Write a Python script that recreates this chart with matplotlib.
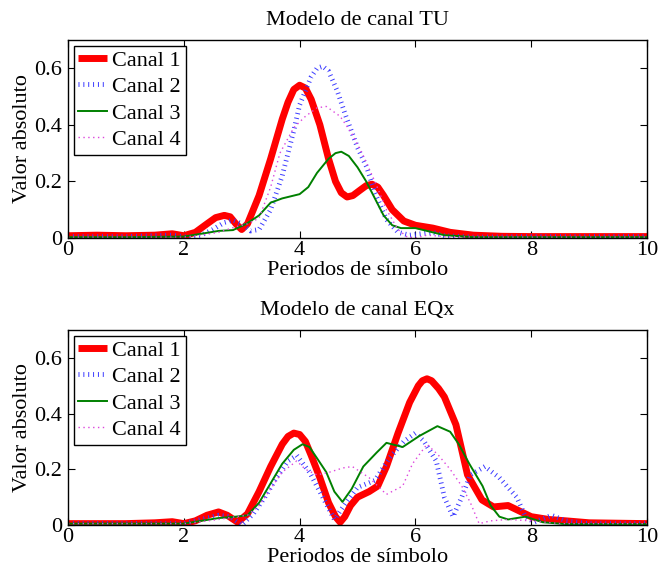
import numpy as np
import matplotlib
matplotlib.use('Agg')
import matplotlib.pyplot as plt

plt.rcParams['font.family'] = ['Liberation Serif', 'DejaVu Serif']
plt.rcParams['font.size'] = 16

# Magnitude of the impulse response per channel, TU channel model
tu_x1 = [0, 0.5, 1.0, 1.5, 1.8, 2.0, 2.2, 2.4, 2.55, 2.7, 2.8, 2.9, 3.0, 3.1, 3.3, 3.5, 3.7, 3.8,
         3.9, 4.0, 4.1, 4.2, 4.35, 4.5, 4.62, 4.72, 4.82, 4.92, 5.05, 5.15, 5.25, 5.35, 5.45, 5.6,
         5.8, 6.0, 6.3, 6.6, 7.0, 7.5, 8.0, 9.0, 10.0]
tu_c1 = [0.008, 0.01, 0.008, 0.01, 0.015, 0.008, 0.02, 0.05, 0.072, 0.08, 0.075, 0.05, 0.03, 0.05,
         0.15, 0.28, 0.42, 0.48, 0.525, 0.54, 0.53, 0.49, 0.40, 0.28, 0.2, 0.16, 0.145, 0.15, 0.17,
         0.185, 0.19, 0.18, 0.15, 0.10, 0.06, 0.045, 0.035, 0.02, 0.01, 0.006, 0.005, 0.005, 0.005]

tu_x2 = [0, 1.0, 1.8, 2.1, 2.3, 2.5, 2.7, 2.85, 3.0, 3.15, 3.3, 3.5, 3.7, 3.9, 4.0, 4.2, 4.3,
         4.4, 4.5, 4.65, 4.8, 5.0, 5.16, 5.3, 5.5, 5.7, 5.9, 6.1, 6.3, 6.5, 7.0, 8.0, 10.0]
tu_c2 = [0.005, 0.005, 0.01, 0.002, 0.01, 0.03, 0.055, 0.063, 0.05, 0.025, 0.03, 0.1, 0.22, 0.38,
         0.47, 0.57, 0.6, 0.607, 0.59, 0.52, 0.43, 0.32, 0.25, 0.16, 0.065, 0.02, 0.01, 0.015,
         0.02, 0.008, 0.003, 0.005, 0.005]

tu_x3 = [0, 1.0, 2.0, 2.3, 2.6, 2.85, 3.08, 3.3, 3.5, 3.7, 3.9, 4.0, 4.15, 4.3, 4.5, 4.62, 4.72,
         4.85, 5.0, 5.15, 5.3, 5.45, 5.6, 5.75, 6.0, 6.2, 6.5, 7.0, 10.0]
tu_c3 = [0.003, 0.003, 0.005, 0.015, 0.025, 0.028, 0.05, 0.08, 0.125, 0.14, 0.15, 0.155, 0.18,
         0.23, 0.28, 0.3, 0.305, 0.29, 0.25, 0.2, 0.14, 0.08, 0.045, 0.035, 0.035, 0.025, 0.01,
         0.003, 0.003]

tu_x4 = [0, 2.0, 2.3, 2.6, 2.9, 3.1, 3.3, 3.5, 3.66, 3.9, 4.1, 4.3, 4.46, 4.7, 4.9, 5.1, 5.3,
         5.5, 5.7, 5.85, 6.0, 6.2, 6.5, 7.0, 10.0]
tu_c4 = [0.003, 0.003, 0.01, 0.02, 0.04, 0.05, 0.07, 0.18, 0.3, 0.39, 0.43, 0.46, 0.465, 0.43,
         0.37, 0.29, 0.2, 0.1, 0.03, 0.005, 0.0, 0.01, 0.005, 0.003, 0.003]

# Same channels after the EQx model
eq_x1 = [0, 1.0, 1.5, 1.8, 2.0, 2.2, 2.4, 2.6, 2.75, 2.93, 3.1, 3.3, 3.5, 3.7, 3.8, 3.9, 4.0,
         4.1, 4.2, 4.35, 4.5, 4.62, 4.7, 4.78, 4.88, 5.0, 5.2, 5.35, 5.5, 5.6, 5.7, 5.9, 6.05, 6.12,
         6.2, 6.28, 6.4, 6.5, 6.7, 6.9, 7.15, 7.35, 7.6, 7.8, 8.0, 8.3, 8.6, 9.0, 10.0]
eq_c1 = [0.005, 0.005, 0.008, 0.012, 0.005, 0.015, 0.035, 0.047, 0.035, 0.01, 0.04, 0.12, 0.21,
         0.29, 0.318, 0.33, 0.325, 0.3, 0.25, 0.17, 0.08, 0.03, 0.01, 0.03, 0.07, 0.1, 0.12, 0.14,
         0.21, 0.27, 0.33, 0.44, 0.5, 0.518, 0.525, 0.518, 0.49, 0.46, 0.36, 0.18, 0.09, 0.065,
         0.07, 0.05, 0.03, 0.02, 0.015, 0.008, 0.005]

eq_x2 = [0, 2.0, 2.3, 2.6, 2.8, 3.0, 3.2, 3.4, 3.6, 3.8, 3.95, 4.17, 4.4, 4.6, 4.8, 5.0, 5.3,
         5.55, 5.8, 6.0, 6.15, 6.36, 6.5, 6.65, 6.8, 6.95, 7.2, 7.45, 7.75, 7.9, 8.05, 8.35, 8.6,
         9.0, 10.0]
eq_c2 = [0.005, 0.005, 0.02, 0.035, 0.03, 0.0, 0.04, 0.1, 0.17, 0.23, 0.25, 0.19, 0.1, 0.02,
         0.08, 0.135, 0.16, 0.24, 0.3, 0.33, 0.3, 0.23, 0.1, 0.03, 0.1, 0.18, 0.21, 0.17, 0.1,
         0.03, 0.01, 0.035, 0.015, 0.005, 0.005]

eq_x3 = [0, 2.0, 2.3, 2.6, 2.9, 3.1, 3.3, 3.5, 3.7, 3.9, 4.05, 4.17, 4.3, 4.46, 4.6, 4.74, 4.9,
         5.1, 5.33, 5.5, 5.78, 6.07, 6.38, 6.6, 6.75, 6.93, 7.16, 7.3, 7.45, 7.6, 7.9, 8.2, 8.6,
         10.0]
eq_c3 = [0.005, 0.005, 0.015, 0.025, 0.03, 0.035, 0.08, 0.15, 0.22, 0.27, 0.29, 0.28, 0.24,
         0.19, 0.12, 0.083, 0.13, 0.21, 0.26, 0.295, 0.28, 0.32, 0.355, 0.335, 0.29, 0.22, 0.14,
         0.07, 0.03, 0.02, 0.03, 0.01, 0.003, 0.003]

eq_x4 = [0, 2.0, 2.3, 2.6, 2.9, 3.1, 3.3, 3.5, 3.7, 3.95, 4.1, 4.3, 4.52, 4.75, 4.91, 5.2, 5.5,
         5.78, 5.95, 6.2, 6.4, 6.6, 6.8, 6.95, 7.1, 7.3, 7.6, 8.0, 8.5, 10.0]
eq_c4 = [0.005, 0.005, 0.012, 0.02, 0.03, 0.035, 0.07, 0.13, 0.19, 0.23, 0.2, 0.18, 0.19, 0.205,
         0.21, 0.17, 0.11, 0.14, 0.22, 0.29, 0.25, 0.2, 0.14, 0.08, 0.005, 0.015, 0.02, 0.015,
         0.005, 0.005]

labels = ['Canal 1', 'Canal 2', 'Canal 3', 'Canal 4']
titles = ['Modelo de canal TU', 'Modelo de canal EQx']


def draw_panel(ax, series, title):
    (x1, c1), (x2, c2), (x3, c3), (x4, c4) = series
    ax.plot(x1, c1, color='red', lw=5, label=labels[0],
            solid_joinstyle='round', solid_capstyle='butt')
    ax.plot(x2, c2, color='#3a3aff', lw=3.5, dashes=(0.2, 0.8), label=labels[1])
    ax.plot(x3, c3, color='green', lw=1.4, label=labels[2])
    ax.plot(x4, c4, color='#dd44dd', lw=1.0, dashes=(1, 2.5), label=labels[3])

    ax.set_xlim(0, 10)
    ax.set_ylim(0, 0.7)
    ax.set_xticks(np.arange(0, 11, 2))
    ax.set_yticks([0, 0.2, 0.4, 0.6])
    ax.set_yticklabels(['0', '0.2', '0.4', '0.6'])
    ax.tick_params(direction='in', top=True, right=True, length=5, width=0.8, pad=2)
    ax.tick_params(axis='y', pad=4)
    for sp in ax.spines.values():
        sp.set_linewidth(1.0)

    ax.set_title(title, fontsize=16, pad=11)
    ax.set_xlabel('Periodos de símbolo', labelpad=1)
    ax.set_ylabel('Valor absoluto', labelpad=2)

    leg = ax.legend(loc='upper left', fancybox=False, framealpha=1, edgecolor='black',
                    handlelength=1.3, handletextpad=0.25, labelspacing=0.27,
                    borderpad=0.2, borderaxespad=0.25, fontsize=16)
    leg.get_frame().set_linewidth(1.0)


fig = plt.figure(figsize=(6.59, 5.76), dpi=100)
ax_tu = fig.add_axes([0.1032, 0.5868, 0.8786, 0.3438])
ax_eq = fig.add_axes([0.1032, 0.0885, 0.8786, 0.3385])

draw_panel(ax_tu, [(tu_x1, tu_c1), (tu_x2, tu_c2), (tu_x3, tu_c3), (tu_x4, tu_c4)], titles[0])
draw_panel(ax_eq, [(eq_x1, eq_c1), (eq_x2, eq_c2), (eq_x3, eq_c3), (eq_x4, eq_c4)], titles[1])

fig.savefig('out.png', dpi=100)
